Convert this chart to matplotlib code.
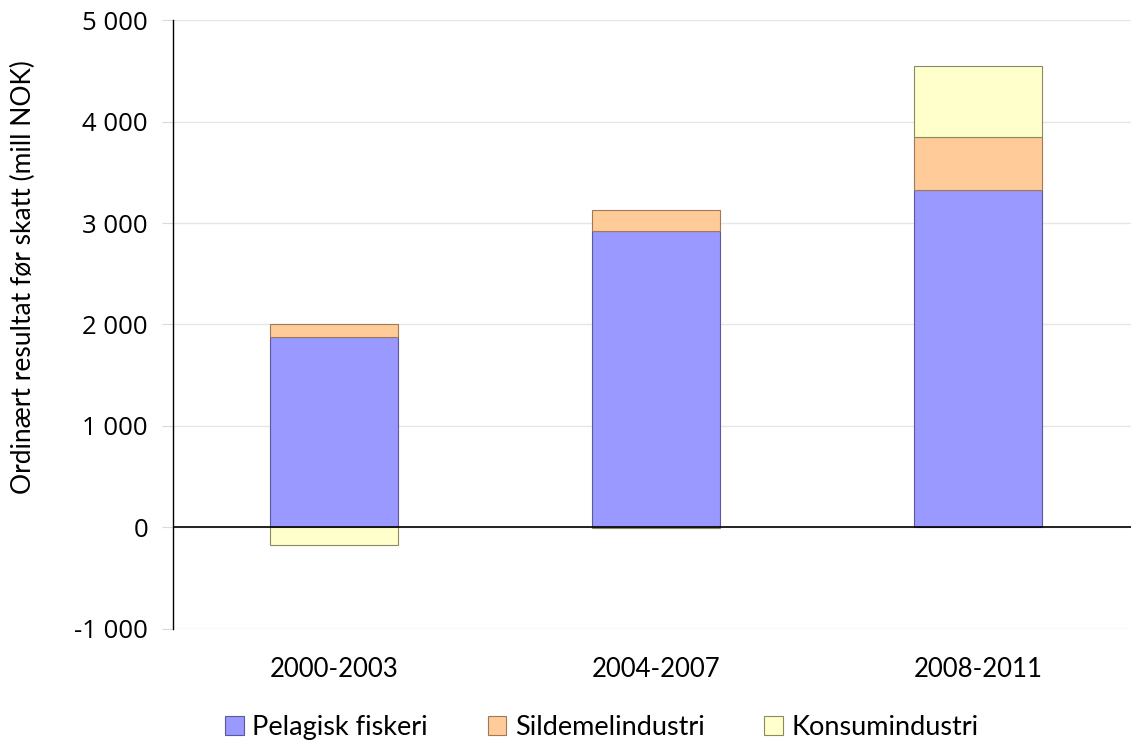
import matplotlib.pyplot as plt
import numpy as np

periods = ['2000-2003', '2004-2007', '2008-2011']
pelagisk = [1874, 2919, 3323]
sildemel = [128, 207, 523]
konsum = [-168, -5, 700]

fig = plt.figure(figsize=(11.31, 7.44), dpi=100)
ax = fig.add_axes([0.153, 0.1546, 0.854, 0.8185])

x = np.arange(len(periods))
w = 0.4

pel = np.array(pelagisk)
sil = np.array(sildemel)
kon = np.array(konsum)

ax.bar(x, pel, w, color='#9999FF', edgecolor='#5a5a99', linewidth=0.8, label='Pelagisk fiskeri', zorder=3)
ax.bar(x, sil, w, bottom=pel, color='#FFCC99', edgecolor='#a07a55', linewidth=0.8, label='Sildemelindustri', zorder=3)
# negative konsum values are stacked below zero
kon_bottom = np.where(kon >= 0, pel + sil, 0)
ax.bar(x, kon, w, bottom=kon_bottom, color='#FFFFCC', edgecolor='#8a8a60', linewidth=0.8, label='Konsumindustri', zorder=3)

ax.set_xlim(-0.5, 2.5)
ax.set_ylim(-1000, 5000)
ax.set_yticks(range(-1000, 5001, 1000))
ax.set_yticklabels([f'{v:,}'.replace(',', ' ') for v in range(-1000, 5001, 1000)],
                   fontsize=18.5, family='Open Sans')
ax.set_xticks(x)
ax.set_xticklabels(periods, fontsize=18.5, family='Lato')
ax.tick_params(axis='x', length=0, pad=20)
ax.tick_params(axis='y', length=8, color='#d9d9d9', pad=10)

ax.grid(axis='y', color='#e6e6e6', linewidth=1, zorder=0)
ax.axhline(0, color='black', linewidth=1.2, zorder=4)
for s in ['top', 'right', 'bottom']:
    ax.spines[s].set_visible(False)
ax.spines['left'].set_color('black')
ax.spines['left'].set_linewidth(1)

ax.set_ylabel('Ordinært resultat før skatt (mill NOK)', fontsize=19, family='Lato')
ax.yaxis.set_label_coords(-0.142, 0.578)

fig.legend(loc='center', bbox_to_anchor=(0.532, 0.022), ncol=3, frameon=False,
           prop={'family': 'Lato', 'size': 19.5}, handlelength=0.7, handleheight=0.7,
           handletextpad=0.3, columnspacing=2.2, borderpad=0.1)

fig.savefig('out.png', dpi=100)
